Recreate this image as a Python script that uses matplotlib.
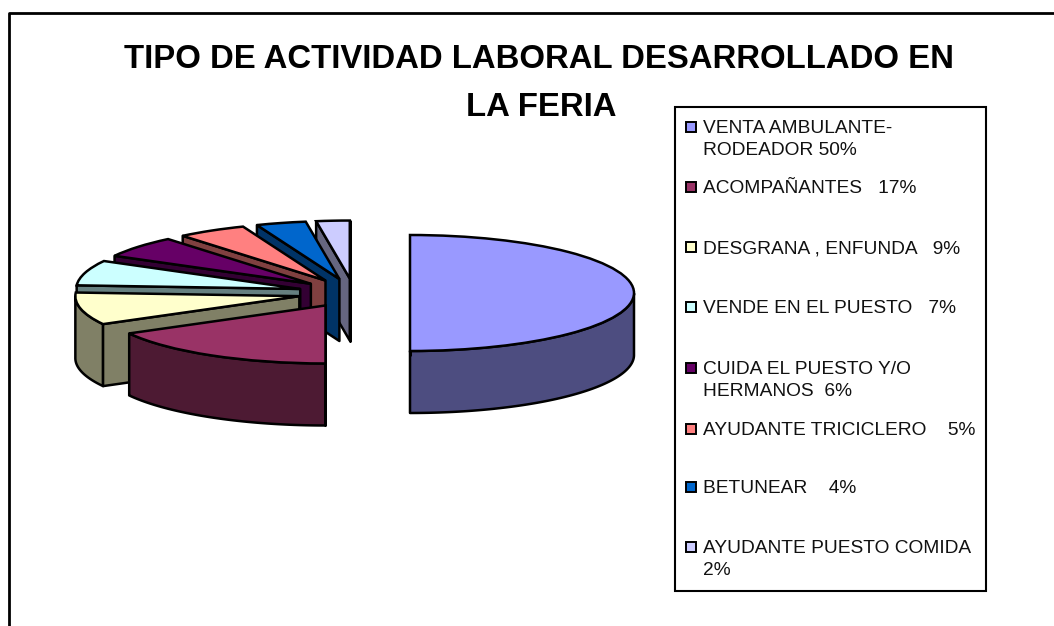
import numpy as np
import matplotlib
matplotlib.use('Agg')
from matplotlib import pyplot as plt
from matplotlib.patches import Polygon, Rectangle

plt.rcParams['font.family'] = ['Liberation Sans', 'DejaVu Sans']

# chart data
title_lines = ['TIPO DE ACTIVIDAD LABORAL DESARROLLADO EN', 'LA FERIA']
values = [50, 17, 9, 7, 6, 5, 3.6, 2.4]
top_colors = ['#9999FF', '#993366', '#FFFFCC', '#CCFFFF', '#660066', '#FF8080', '#0066CC', '#CCCCFF']
legend_labels = ['VENTA AMBULANTE-\nRODEADOR 50%',
                 'ACOMPAÑANTES   17%',
                 'DESGRANA , ENFUNDA   9%',
                 'VENDE EN EL PUESTO   7%',
                 'CUIDA EL PUESTO Y/O\nHERMANOS  6%',
                 'AYUDANTE TRICICLERO    5%',
                 'BETUNEAR    4%',
                 'AYUDANTE PUESTO COMIDA\n2%']

W, H = 1054, 626
cx, cy = 354, 293      # pie centre in pixels
rx, ry = 224, 58       # pie radii in pixels
depth = 62 / ry        # extrusion in y data units
explode = 0.25

fig = plt.figure(figsize=(W / 100, H / 100), dpi=100, facecolor='white')
ax = fig.add_axes([0, 0, 1, 1])

wedges, _ = ax.pie(values, colors=top_colors, startangle=90, counterclock=False,
                   explode=[explode] * len(values), radius=1,
                   wedgeprops=dict(edgecolor='black', linewidth=1.8))
ax.set_aspect('auto')
ax.set_xlim(-cx / rx, (W - cx) / rx)
ax.set_ylim((cy - H) / ry, cy / ry)
ax.axis('off')


def wedge_outline(w):
    # ccw outline of a wedge: arc, then centre, then back to the arc start
    t = np.radians(np.linspace(w.theta1, w.theta2, 200))
    arc = np.column_stack([w.center[0] + w.r * np.cos(t), w.center[1] + w.r * np.sin(t)])
    return np.vstack([arc, w.center, arc[0]])


def side_faces(verts):
    # edges going left to right face the viewer (wedges wind ccw), split at corners
    runs, run = [], []
    for a, b in zip(verts[:-1], verts[1:]):
        d = b - a
        if np.hypot(*d) < 1e-9:
            continue
        if d[0] > 1e-9:
            if run:
                p = run[-1][1] - run[-1][0]
                ang = np.arctan2(p[1] * ry, p[0] * rx) - np.arctan2(d[1] * ry, d[0] * rx)
                if abs(ang) > 0.25:
                    runs.append(run)
                    run = []
            run.append((a, b))
        elif run:
            runs.append(run)
            run = []
    if run:
        runs.append(run)
    return runs


# back slices first, each one extruded and then its top put back on top
order = list(range(len(values) - 1, -1, -1))
for z, i in enumerate(order):
    w = wedges[i]
    w.set_zorder(10 + 2 * z + 1)
    side = tuple(0.5 * np.array(matplotlib.colors.to_rgb(top_colors[i])))
    for run in side_faces(wedge_outline(w)):
        up = np.array([run[0][0]] + [s[1] for s in run])
        down = up - [0, depth]
        ax.add_patch(Polygon(np.vstack([up, down[::-1]]), closed=True, facecolor=side,
                             edgecolor='black', linewidth=1.8, joinstyle='round',
                             zorder=10 + 2 * z))


def px_x(x):
    return x / W


def px_y(y):
    return 1 - y / H


# outer frame, cut off by the picture on the right and at the bottom
fig.add_artist(plt.Line2D([px_x(9), px_x(9), 1], [0, px_y(13), px_y(13)], color='black', lw=2))

fig.text(px_x(539), px_y(59), title_lines[0], ha='center', va='center',
         fontsize=23.65, fontweight='bold', color='black')
fig.text(px_x(541), px_y(108), title_lines[1], ha='center', va='center',
         fontsize=23.65, fontweight='bold', color='black')

# legend box
fig.add_artist(Rectangle((px_x(675), px_y(591)), 311 / W, 484 / H, transform=fig.transFigure,
                         facecolor='white', edgecolor='black', linewidth=1.5, zorder=30))
legend_y = [127, 187, 247, 307, 368, 429, 487, 547]
for lab, col, y in zip(legend_labels, top_colors, legend_y):
    fig.add_artist(Rectangle((px_x(686), px_y(y + 5)), 10 / W, 10 / H, transform=fig.transFigure,
                             facecolor=col, edgecolor='black', linewidth=1.4, zorder=31))
    fig.text(px_x(703), px_y(y - 7), lab, ha='left', va='top', fontsize=13.8,
             color='#111111', linespacing=1.37, zorder=31)

fig.savefig('out.png', dpi=100)
